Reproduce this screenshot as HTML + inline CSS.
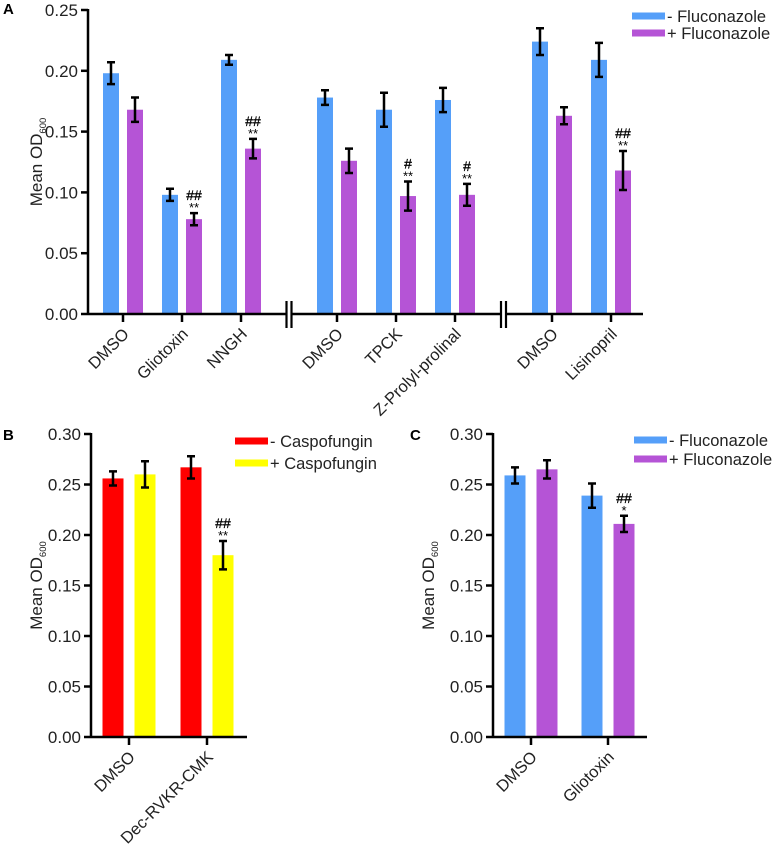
<!DOCTYPE html>
<html><head><meta charset="utf-8"><style>
body{margin:0;background:#fff}
svg{display:block;font-family:"Liberation Sans",Arial,sans-serif}
</style></head><body>
<svg id="fig" width="777" height="851" viewBox="0 0 777 851"></svg>
<script>
// Panel A data
const catsA = ["DMSO","Gliotoxin","NNGH","DMSO","TPCK","Z-Prolyl-prolinal","DMSO","Lisinopril"];
const minusA = [0.198,0.098,0.209,0.178,0.168,0.176,0.224,0.209];
const minusErrA = [0.009,0.005,0.004,0.006,0.014,0.010,0.011,0.014];
const plusA = [0.168,0.078,0.136,0.126,0.097,0.098,0.163,0.118];
const plusErrA = [0.010,0.005,0.008,0.010,0.012,0.009,0.007,0.016];
const sigHashA = ["","##","##","","#","#","","##"];
const sigStarA = ["","**","**","","**","**","","**"];
const ticksA = [0,0.05,0.10,0.15,0.20,0.25];
// Panel B data
const catsB = ["DMSO","Dec-RVKR-CMK"];
const minusB = [0.256,0.267];
const minusErrB = [0.007,0.011];
const plusB = [0.260,0.180];
const plusErrB = [0.013,0.014];
const sigHashB = ["","##"];
const sigStarB = ["","**"];
// Panel C data
const catsC = ["DMSO","Gliotoxin"];
const minusC = [0.259,0.239];
const minusErrC = [0.008,0.012];
const plusC = [0.265,0.211];
const plusErrC = [0.009,0.008];
const sigHashC = ["","##"];
const sigStarC = ["","*"];
const ticksBC = [0,0.05,0.10,0.15,0.20,0.25,0.30];

const NS="http://www.w3.org/2000/svg";
const svg=document.getElementById('fig');
function mk(tag,attrs,parent,text){const e=document.createElementNS(NS,tag);for(const k in attrs)e.setAttribute(k,attrs[k]);if(text!==undefined)e.textContent=text;(parent||svg).appendChild(e);return e;}

function panel(o){
  const g=mk('g',{});
  
  
  const y=v=>o.y0-(v/o.ymax)*(o.y0-o.yTop);
  o.cats.forEach((c,i)=>{
    const t=o.tickX[i];
    [[o.minus,o.minusErr,o.c1,-o.off,'minus'],[o.plus,o.plusErr,o.c2,o.off,'plus']].forEach(([vals,errs,col,dx,nm])=>{
      const cx=t+dx,v=vals[i];
      const r=mk('rect',{x:cx-o.bw/2,y:y(v),width:o.bw,height:o.y0-y(v),fill:col},g);
      
      
      const e=errs[i],yt=y(v+e),yb=y(v-e);
      const eb=mk('path',{d:`M${cx} ${yt}V${yb}M${cx-4} ${yt}H${cx+4}M${cx-4} ${yb}H${cx+4}`,stroke:'#000','stroke-width':2.5,fill:'none'},g);
      
      
      if(nm==='plus'&&o.hash[i]){
        const h=mk('text',{x:cx,y:yt-13,'text-anchor':'middle','font-size':14,stroke:'#000','stroke-width':0.3},g,o.hash[i]);
        
        
        const s=mk('text',{x:cx,y:yt-1,'text-anchor':'middle','font-size':13},g,o.star[i]);
        
        
      }
    });
    const tk=mk('line',{x1:t,x2:t,y1:o.y0,y2:o.y0+8,stroke:'#000','stroke-width':2.5},g);
    
    
    const lx=t+7, ly=o.y0+21;
    const lb=mk('text',{x:lx,y:ly,'text-anchor':'end','font-size':16.5,fill:'#222',transform:`rotate(-45 ${lx} ${ly})`},g,c);
    
    
  });
  const ya=mk('line',{x1:o.x0,x2:o.x0,y1:o.yTop-1,y2:o.y0+1,stroke:'#000','stroke-width':2.5},g);
  
  
  const xa=mk('line',{x1:o.x0,x2:o.xEnd,y1:o.y0,y2:o.y0,stroke:'#000','stroke-width':2.5},g);
  
  
  (o.breaks||[]).forEach(b=>{
    mk('rect',{x:b-2,y:o.y0-3,width:4,height:6,fill:'#fff'},g);
    const br=mk('path',{d:`M${b-3} ${o.y0-13}V${o.y0+14}M${b+2} ${o.y0-13}V${o.y0+14}`,stroke:'#000','stroke-width':2.2},g);
    
    
  });
  o.ticks.forEach(v=>{
    mk('line',{x1:o.x0-7,x2:o.x0,y1:y(v),y2:y(v),stroke:'#000','stroke-width':2.5},g);
    const t=mk('text',{x:o.x0-10,y:y(v)+6,'text-anchor':'end','font-size':17,fill:'#222'},g,v.toFixed(2));
    
    
  });
  const ty=(o.y0+o.yTop)/2, tx=o.titleX;
  const tt=mk('text',{x:tx,y:ty,'text-anchor':'middle','font-size':17,fill:'#222',transform:`rotate(-90 ${tx} ${ty})`},g);
  
  
  mk('tspan',{},tt,'Mean OD');
  mk('tspan',{'font-size':9.5,dy:4},tt,'600');
  const pl=mk('text',{x:o.letterX,y:o.letterY,'font-size':15,'font-weight':'bold'},g,o.letter);
  
  
  [[o.c1,o.l1],[o.c2,o.l2]].forEach(([col,txt],k)=>{
    const ly=o.legY+k*o.legGap;
    const sw=mk('rect',{x:o.legX,y:ly-3.5,width:33,height:7,fill:col},g);
    
    
    const lt=mk('text',{x:o.legX+35,y:ly+6,'font-size':16.5,fill:'#222'},g,txt);
    
    
  });
}
panel({name:'panel-a',cats:catsA,minus:minusA,minusErr:minusErrA,plus:plusA,plusErr:plusErrA,hash:sigHashA,star:sigStarA,
  ticks:ticksA,ymax:0.25,x0:88,xEnd:643,y0:314,yTop:10,tickX:[123,182,241,337,396,455,552,611],off:12,bw:16,
  breaks:[289.5,504],c1:'#559ff9',c2:'#b554d6',l1:' - Fluconazole',l2:'+ Fluconazole',legX:632,legY:16,legGap:17,
  titleX:42,letter:'A',letterX:3,letterY:14});
panel({name:'panel-b',cats:catsB,minus:minusB,minusErr:minusErrB,plus:plusB,plusErr:plusErrB,hash:sigHashB,star:sigStarB,
  ticks:ticksBC,ymax:0.30,x0:91,xEnd:247,y0:737,yTop:434,tickX:[129,207],off:16,bw:21,
  c1:'#ff0000',c2:'#ffff00',l1:' - Caspofungin',l2:'+ Caspofungin',legX:235,legY:441,legGap:22,
  titleX:42,letter:'B',letterX:3,letterY:440});
panel({name:'panel-c',cats:catsC,minus:minusC,minusErr:minusErrC,plus:plusC,plusErr:plusErrC,hash:sigHashC,star:sigStarC,
  ticks:ticksBC,ymax:0.30,x0:493,xEnd:647,y0:737,yTop:434,tickX:[531,608],off:16,bw:21,
  c1:'#559ff9',c2:'#b554d6',l1:' - Fluconazole',l2:'+ Fluconazole',legX:634,legY:440,legGap:19,
  titleX:434,letter:'C',letterX:410,letterY:440});
</script>
</body></html>
